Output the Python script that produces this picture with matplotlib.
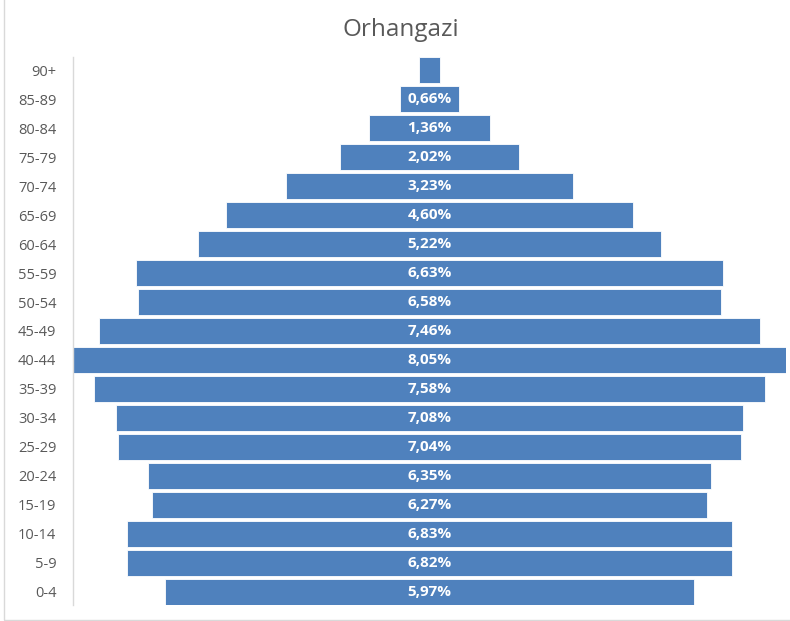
import matplotlib
matplotlib.use("Agg")
import matplotlib.pyplot as plt
from matplotlib.patches import Rectangle

categories = ["0-4", "5-9", "10-14", "15-19", "20-24", "25-29", "30-34", "35-39",
              "40-44", "45-49", "50-54", "55-59", "60-64", "65-69", "70-74",
              "75-79", "80-84", "85-89", "90+"]
values = [5.97, 6.82, 6.83, 6.27, 6.35, 7.04, 7.08, 7.58, 8.05, 7.46, 6.58,
          6.63, 5.22, 4.60, 3.23, 2.02, 1.36, 0.66, 0.23]
labels = ["5,97%", "6,82%", "6,83%", "6,27%", "6,35%", "7,04%", "7,08%", "7,58%",
          "8,05%", "7,46%", "6,58%", "6,63%", "5,22%", "4,60%", "3,23%", "2,02%",
          "1,36%", "0,66%", ""]
title = "Orhangazi"

plt.rcParams['font.family'] = ['Open Sans', 'DejaVu Sans']

W, H = 790, 621
fig = plt.figure(figsize=(W / 100, H / 100), dpi=100)
ax = fig.add_axes([73 / W, (H - 605) / H, (786 - 73) / W, (605 - 57) / H])

bar_color = "#4F81BD"
ypos = list(range(len(categories)))
lefts = [-v / 2 for v in values]
ax.barh(ypos, values, left=lefts, height=0.92, color=bar_color,
        edgecolor="white", linewidth=0.6)
for y, lab in zip(ypos, labels):
    if lab:
        ax.text(0, y, lab, ha="center", va="center", color="white",
                fontsize=11, fontweight="bold")

mx = max(values) / 2
ax.set_xlim(-mx, mx)
ax.set_ylim(-0.45, len(categories) - 0.55)
ax.set_yticks(ypos)
ax.set_yticklabels(categories, color="#595959", fontsize=10.5)
ax.tick_params(axis="y", length=0, pad=12)
ax.set_xticks([])
for s in ["top", "right", "bottom"]:
    ax.spines[s].set_visible(False)
ax.spines["left"].set_color("#D9D9D9")
ax.spines["left"].set_linewidth(1)

fig.text(401 / W, 1 - 30 / H, title, ha="center", va="center",
         fontsize=17.5, color="#595959")

fig.patches.append(Rectangle((3.5 / W, 1 - 619.5 / H), (W + 10) / W, (619.5 - 0) / H + 0.1,
                             transform=fig.transFigure, fill=False,
                             edgecolor="#D9D9D9", linewidth=1))

fig.savefig("out.png", dpi=100, facecolor="white")
